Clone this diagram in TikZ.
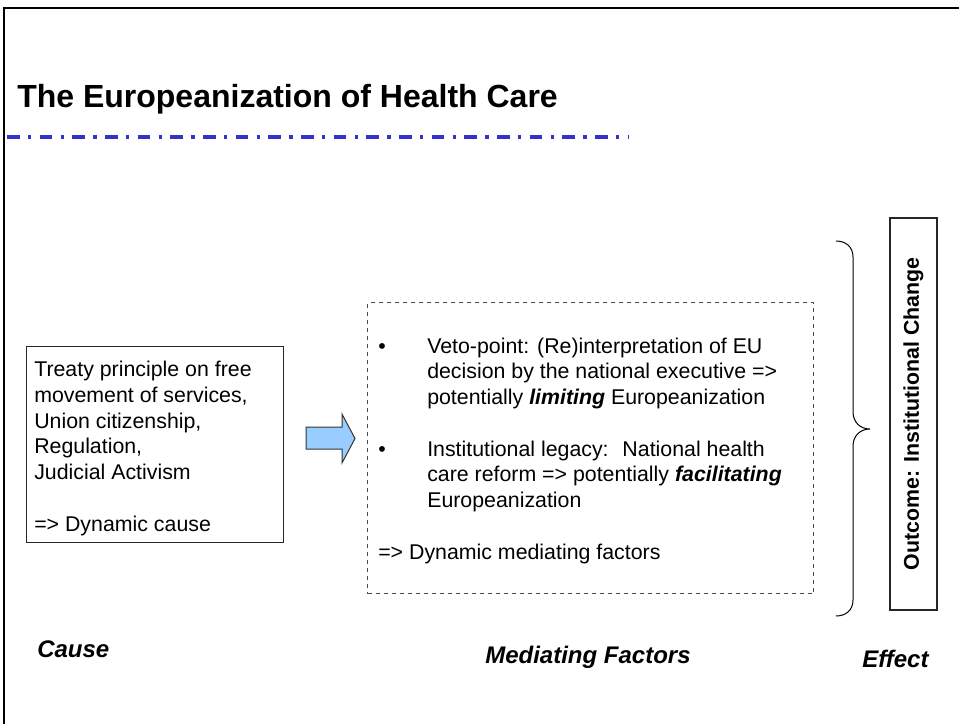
\documentclass[tikz,border=0pt]{standalone}
\usepackage{fontspec}
\setmainfont{Liberation Sans}
\definecolor{rulecolor}{RGB}{51,51,204}
\definecolor{arrowfill}{RGB}{153,204,255}

\begin{document}
\begin{tikzpicture}[x=0.75pt,y=0.75pt,yscale=-1,xscale=1]
\useasboundingbox (0,0) rectangle (959,724);

%Frame
\draw [line width=1.5]  (4,724) -- (4,8) -- (959,8) ;

% Title
\node (title) [anchor=base west][inner sep=0pt] at (17,108) {\fontsize{24}{29}\selectfont\bfseries The Europeanization of Health Care};

%Dash dot rule
\draw [color=rulecolor, line width=2.5, dash pattern=on 9.5pt off 6.25pt on 2.5pt off 6.25pt]  (7,137) -- (628,137) ;

%Shape: Rectangle (cause)
\node (cause) [draw=black!85, line width=0.75, anchor=north west, minimum width=192.75pt, minimum height=147pt] at (26,346) {};
% Text Node
\node (causetext) [anchor=north west][inner sep=0pt, align=left, font=\fontsize{16}{19.3}\selectfont] at (34,361) {Treaty principle on free\\movement of services,\\Union citizenship,\\Regulation,\\Judicial Activism\\[19.3pt]=> Dynamic cause};

%Shape: Right Arrow
\draw [fill=arrowfill, draw=black!80, line width=0.75]  (306,427) -- (342,427) -- (342,414) -- (355,438.5) -- (342,463) -- (342,449) -- (306,449) -- cycle ;

%Shape: Rectangle (mediating factors)
\node (mediators) [draw=black!70, dashed, line width=0.75, anchor=north west, minimum width=334.5pt, minimum height=218.25pt] at (367,302) {};
% Text Node
\node (mediatorstext) [anchor=north west][inner sep=0pt, align=left, font=\fontsize{16}{19.3}\selectfont] at (378,337.5) {\makebox[36.75pt][l]{\textbullet}Veto-point: (Re)interpretation of EU\\
\hspace*{36.75pt}decision by the national executive =>\\
\hspace*{36.75pt}potentially \textbf{\textit{limiting}} Europeanization\\[19.3pt]
\makebox[36.75pt][l]{\textbullet}Institutional legacy: \ National health\\
\hspace*{36.75pt}care reform => potentially \textbf{\textit{facilitating}}\\
\hspace*{36.75pt}Europeanization\\[19.3pt]
=> Dynamic mediating factors};

%Right Brace
\coordinate (bracetop) at (836,241);
\coordinate (bracetip) at (870,429);
\coordinate (bracebot) at (836,616);
\draw [line width=0.75]  (bracetop) .. controls (846,241) and (853,247) .. (853,257) -- (853,412) .. controls (853,422) and (860,429) .. (bracetip) .. controls (860,429) and (853,436) .. (853,446) -- (853,600) .. controls (853,610) and (846,616) .. (bracebot) ;

%Shape: Rectangle (outcome)
\node (outcome) [draw=black!85, line width=1.1, rotate=90, minimum width=294pt, minimum height=35.25pt, inner sep=0pt, font=\fontsize{16}{19}\selectfont\bfseries] at (913.5,414) {Outcome: Institutional Change};

% Text Node
\node (cause label) [anchor=base west][inner sep=0pt, font=\fontsize{18}{22}\selectfont\bfseries\itshape] at (37,657) {Cause};
% Text Node
\node (mediating label) [anchor=base west][inner sep=0pt, font=\fontsize{18}{22}\selectfont\bfseries\itshape] at (485,663) {Mediating Factors};
% Text Node
\node (effect label) [anchor=base west][inner sep=0pt, font=\fontsize{18}{22}\selectfont\bfseries\itshape] at (862,667) {Effect};

\end{tikzpicture}
\end{document}
